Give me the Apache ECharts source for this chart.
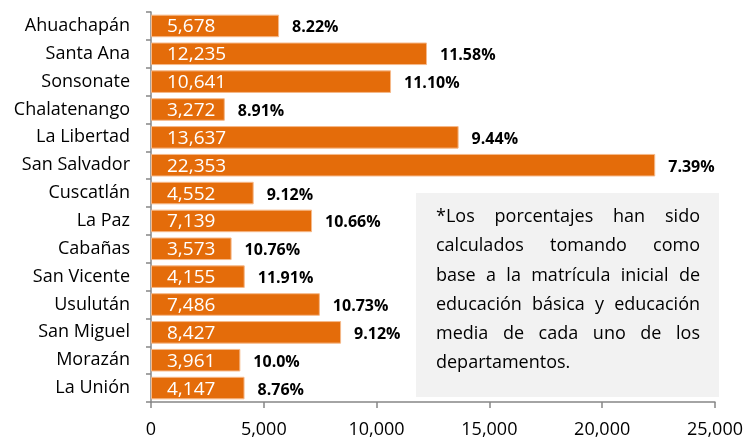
<!DOCTYPE html>
<html>
<head>
<meta charset="utf-8">
<script src="https://cdn.jsdelivr.net/npm/echarts@6/dist/echarts.min.js"></script>
<style>
  html, body { margin: 0; padding: 0; background: #fff; }
  #chart { width: 746px; height: 439px; }
</style>
</head>
<body>
<div id="chart"></div>
<script>
const departamentos = ['Ahuachapán', 'Santa Ana', 'Sonsonate', 'Chalatenango', 'La Libertad', 'San Salvador', 'Cuscatlán', 'La Paz', 'Cabañas', 'San Vicente', 'Usulután', 'San Miguel', 'Morazán', 'La Unión']
const valores = [5678, 12235, 10641, 3272, 13637, 22353, 4552, 7139, 3573, 4155, 7486, 8427, 3961, 4147]
const porcentajes = ['8.22%', '11.58%', '11.10%', '8.91%', '9.44%', '7.39%', '9.12%', '10.66%', '10.76%', '11.91%', '10.73%', '9.12%', '10.0%', '8.76%']
const notaLineas = [
  '*Los porcentajes han sido',
  'calculados tomando como',
  'base a la matrícula inicial de',
  'educación básica y educación',
  'media de cada uno de los',
  'departamentos.'
]

const fontFamily = '"Open Sans", "Noto Sans", sans-serif'
const chart = echarts.init(document.getElementById('chart'))

// nota con texto justificado (como en Excel)
function buildNota() {
  const ctx = document.createElement('canvas').getContext('2d')
  const fontSize = 18
  ctx.font = fontSize + 'px ' + fontFamily
  const left = 436
  const width = 264
  const top = 217
  const lineHeight = 29.2
  const els = [{
    type: 'rect',
    shape: { x: 416, y: 193, width: 303, height: 204 },
    style: { fill: '#F2F2F2' },
    z: 5
  }]
  notaLineas.forEach((linea, i) => {
    const words = linea.split(' ')
    const y = top + i * lineHeight
    const last = i === notaLineas.length - 1
    let gap = ctx.measureText(' ').width
    if (!last && words.length > 1) {
      const total = words.reduce((s, w) => s + ctx.measureText(w).width, 0)
      gap = (width - total) / (words.length - 1)
    }
    let x = left
    words.forEach(w => {
      els.push({
        type: 'text',
        x: x,
        y: y,
        z: 6,
        style: {
          text: w,
          fill: '#000',
          font: fontSize + 'px ' + fontFamily,
          verticalAlign: 'middle'
        }
      })
      x += ctx.measureText(w).width + gap
    })
  })
  return els
}

chart.setOption({
  animation: false,
  textStyle: { fontFamily: fontFamily },
  grid: {
    left: 151,
    right: 30,
    top: 12,
    bottom: 36
  },
  xAxis: {
    type: 'value',
    min: 0,
    max: 25000,
    interval: 5000,
    axisLine: { show: true, lineStyle: { color: '#868686', width: 1.5 } },
    axisTick: { show: true, length: 6, lineStyle: { color: '#868686', width: 1.5 } },
    splitLine: { show: false },
    axisLabel: {
      color: '#000',
      fontSize: 18,
      margin: 19,
      formatter: v => v.toLocaleString('en-US')
    }
  },
  yAxis: {
    type: 'category',
    inverse: true,
    data: departamentos,
    axisLine: { show: true, lineStyle: { color: '#868686', width: 1.5 } },
    axisTick: { show: true, length: 5, lineStyle: { color: '#868686', width: 1.5 } },
    axisLabel: {
      color: '#000',
      fontSize: 18,
      margin: 21
    }
  },
  series: [
    {
      name: 'valor',
      type: 'bar',
      data: valores,
      barCategoryGap: '19%',
      itemStyle: { color: '#E46C0A', borderColor: '#F6B98A', borderWidth: 1 },
      label: {
        show: true,
        position: [16, '55%'],
        align: 'left',
        verticalAlign: 'middle',
        color: '#fff',
        fontSize: 19,
        formatter: p => p.value.toLocaleString('en-US')
      },
      z: 2
    },
    {
      name: 'porcentaje',
      type: 'bar',
      data: valores,
      barGap: '-100%',
      barCategoryGap: '19%',
      itemStyle: { color: 'rgba(0,0,0,0)' },
      label: {
        show: true,
        position: 'right',
        distance: 13,
        color: '#000',
        fontSize: 16,
        fontWeight: 'bold',
        offset: [0, 2],
        formatter: p => porcentajes[p.dataIndex]
      },
      z: 3
    }
  ],
  graphic: buildNota()
})
</script>
</body>
</html>
